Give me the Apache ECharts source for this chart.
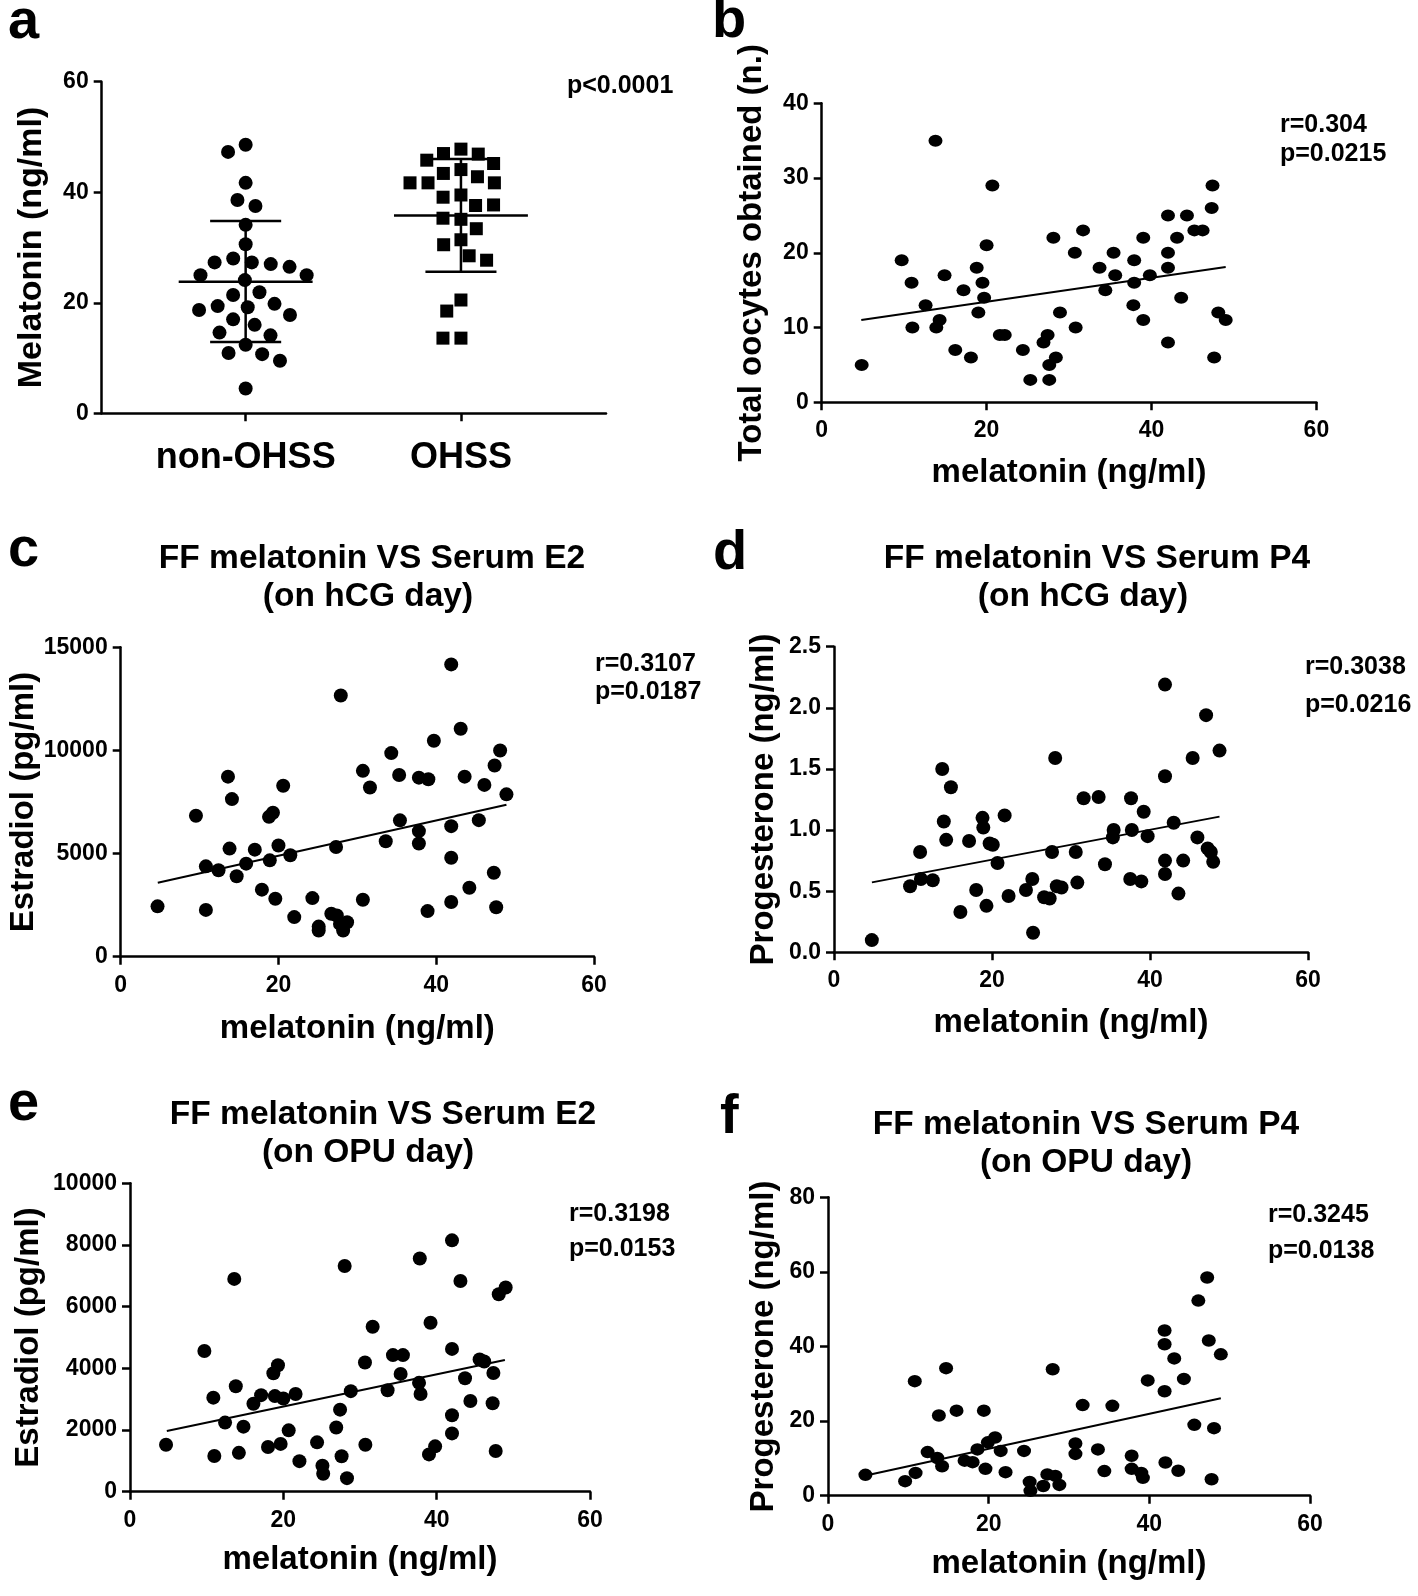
<!DOCTYPE html>
<html><head><meta charset="utf-8">
<script src="https://cdn.jsdelivr.net/npm/echarts@6/dist/echarts.min.js"></script>
<style>html,body{margin:0;padding:0;background:#fff}#c{width:1418px;height:1596px}</style>
</head><body><div id="c"></div>
<script>
// ---------- Panel a ----------
const groupsA = ['non-OHSS', 'OHSS'];
const melatoninNonOHSS = [48.6, 47.3, 41.7, 38.6, 37.5, 34.1, 30.6, 28.0, 27.3, 27.0, 27.3, 26.5, 25.0, 25.0, 24.1, 21.9, 21.4, 19.8, 19.4, 19.2, 18.7, 17.8, 17.0, 16.0, 14.6, 14.1, 12.4, 10.7, 10.9, 9.5, 4.5];
const melatoninOHSS = [47.8, 47.0, 46.9, 45.8, 45.2, 44.1, 43.4, 42.8, 41.7, 41.7, 41.7, 39.5, 39.1, 37.6, 37.7, 35.1, 35.3, 33.4, 31.4, 30.5, 28.5, 27.7, 20.5, 18.5, 13.6, 13.6];
const meanA = [23.8, 35.8];
const sdLowA = [12.9, 25.6];
const sdHighA = [34.8, 46.0];
const yTicksA = [0, 20, 40, 60];

// ---------- Panel b ----------
const melB = [4.85, 9.7, 10.9, 11.0, 12.6, 13.8, 13.9, 14.3, 14.9, 16.2, 17.2, 18.1, 18.8, 19.0, 19.5, 19.7, 20.0, 20.7, 21.6, 22.2, 24.4, 25.3, 26.9, 27.4, 27.6, 27.6, 28.1, 28.4, 28.9, 30.7, 30.8, 31.7, 33.7, 34.4, 35.4, 35.6, 37.8, 37.9, 37.9, 39.0, 39.0, 39.8, 42.0, 42.0, 42.0, 42.0, 43.1, 43.6, 44.3, 45.2, 46.2, 47.3, 47.4, 48.1, 49.0, 47.6];
const oocytesB = [5, 19, 16, 10, 13, 35, 10, 11, 17, 7, 15, 6, 18, 12, 16, 14, 21, 29, 9, 9, 7, 3, 8, 9, 5, 3, 22, 6, 12, 20, 10, 23, 18, 15, 20, 17, 13, 19, 16, 22, 11, 17, 25, 20, 18, 8, 22, 14, 25, 23, 23, 26, 29, 12, 11, 6];
const fitBx = [4.8, 49.0];
const fitBy = [11.0, 18.1];

// ---------- Panel c ----------
const melC = [4.67, 9.54, 10.8, 10.8, 12.4, 13.6, 13.8, 14.1, 14.7, 15.9, 17.0, 17.9, 18.8, 19.3, 18.9, 19.6, 20.0, 20.6, 21.5, 22.0, 24.3, 25.1, 25.1, 26.7, 27.3, 27.4, 27.9, 27.8, 28.2, 28.7, 30.7, 30.7, 31.6, 33.6, 34.3, 35.3, 35.4, 37.8, 37.8, 37.8, 39.0, 38.9, 39.7, 41.9, 41.9, 41.9, 41.9, 43.1, 43.6, 44.2, 45.4, 46.1, 47.3, 47.4, 47.6, 48.1, 48.9];
const e2C = [2440, 6830, 4380, 2270, 4190, 8730, 5240, 7640, 3900, 4510, 5190, 3250, 6780, 6980, 4670, 2810, 5390, 8290, 4920, 1920, 2840, 1460, 1270, 2080, 5320, 2000, 12660, 1590, 1270, 1670, 9010, 2760, 8200, 5600, 9870, 8810, 6610, 8680, 6090, 5490, 8600, 2210, 10470, 14170, 6330, 4800, 2650, 11050, 8730, 3340, 6620, 8330, 4070, 9270, 2400, 10000, 7870];
const fitCx = [4.7, 48.9];
const fitCy = [3590, 7370];

// ---------- Panel d ----------
const melD = [4.79, 9.63, 10.9, 11.0, 12.5, 13.7, 13.9, 14.2, 14.8, 16.0, 17.1, 18.0, 18.8, 18.9, 19.3, 19.7, 20.1, 20.7, 21.6, 22.1, 24.3, 25.1, 25.2, 26.6, 27.3, 27.6, 28.0, 28.2, 28.8, 30.6, 30.8, 31.6, 33.5, 34.3, 35.4, 35.3, 37.6, 37.7, 37.5, 38.9, 39.2, 39.7, 41.9, 41.9, 41.9, 41.9, 43.0, 43.6, 44.2, 45.4, 46.0, 47.1, 47.3, 47.7, 48.0, 48.8];
const p4D = [0.10, 0.54, 0.82, 0.60, 0.59, 1.50, 1.07, 0.92, 1.35, 0.33, 0.91, 0.51, 1.10, 1.02, 0.38, 0.89, 0.88, 0.73, 1.12, 0.46, 0.51, 0.60, 0.16, 0.45, 0.44, 0.82, 1.59, 0.54, 0.53, 0.82, 0.57, 1.26, 1.27, 0.72, 1.00, 0.94, 1.26, 1.00, 0.60, 0.58, 1.15, 0.95, 2.19, 1.44, 0.75, 0.64, 1.06, 0.48, 0.75, 1.59, 0.94, 1.94, 0.85, 0.82, 0.74, 1.65];
const fitDx = [4.8, 48.8];
const fitDy = [0.572, 1.11];

// ---------- Panel e ----------
const melE = [4.70, 9.70, 10.87, 11.0, 12.4, 13.6, 13.8, 14.2, 14.8, 16.1, 17.1, 18.0, 18.7, 19.3, 18.9, 19.65, 20.0, 20.7, 21.6, 22.1, 24.4, 25.1, 25.2, 26.9, 27.4, 27.6, 28.0, 28.3, 28.8, 30.7, 30.65, 31.65, 33.6, 34.3, 35.6, 35.3, 37.8, 37.7, 37.9, 39.2, 39.0, 39.8, 42.0, 42.0, 42.0, 42.0, 43.1, 43.7, 44.4, 45.6, 46.2, 47.4, 47.3, 47.7, 48.1, 49.0];
const e2E = [1520, 4560, 3050, 1160, 2240, 6900, 3420, 1260, 2110, 2850, 3130, 1450, 3840, 4100, 3100, 1550, 3020, 1990, 3170, 990, 1600, 840, 580, 2080, 2660, 1150, 7320, 440, 3260, 1520, 4190, 5350, 3290, 4430, 4430, 3820, 7560, 3530, 3170, 5480, 1210, 1470, 8150, 4630, 2480, 1890, 6830, 3680, 2940, 4290, 4220, 3850, 2870, 1320, 6400, 6620];
const fitEx = [4.8, 48.9];
const fitEy = [1970, 4270];

// ---------- Panel f ----------
const melF = [4.66, 9.6, 10.9, 10.8, 12.4, 13.6, 13.8, 14.2, 14.7, 16.0, 17.0, 18.0, 18.6, 19.4, 19.6, 19.9, 20.8, 21.5, 22.1, 24.4, 25.1, 25.2, 26.8, 27.3, 27.97, 28.3, 28.8, 30.8, 30.8, 31.7, 33.6, 34.4, 35.4, 37.8, 37.8, 39.0, 39.2, 39.8, 41.9, 41.9, 41.9, 42.0, 43.1, 43.6, 44.3, 45.6, 46.1, 47.2, 47.4, 47.75, 48.05, 48.9];
const p4F = [5.6, 3.9, 6.1, 30.7, 11.7, 10.1, 21.5, 7.9, 34.2, 22.8, 9.4, 9.0, 12.4, 22.8, 7.2, 14.3, 15.6, 12.0, 6.3, 12.0, 3.7, 1.3, 2.6, 5.7, 33.9, 5.3, 2.9, 14.0, 11.2, 24.3, 12.4, 6.6, 24.1, 10.7, 7.2, 6.1, 4.8, 30.9, 44.3, 40.6, 28.0, 8.9, 36.8, 6.7, 31.3, 19.0, 52.3, 58.5, 41.6, 4.4, 18.1, 37.9];
const fitFx = [4.7, 48.9];
const fitFy = [5.4, 26.1];

// ---------- Texts ----------
const panelLetters = ['a', 'b', 'c', 'd', 'e', 'f'];
const titlesLine1 = ['FF melatonin VS Serum E2', 'FF melatonin VS Serum P4', 'FF melatonin VS Serum E2', 'FF melatonin VS Serum P4'];
const titlesLine2 = ['(on hCG day)', '(on hCG day)', '(on OPU day)', '(on OPU day)'];
const statsR = ['r=0.304', 'r=0.3107', 'r=0.3038', 'r=0.3198', 'r=0.3245'];
const statsP = ['p=0.0215', 'p=0.0187', 'p=0.0216', 'p=0.0153', 'p=0.0138'];
const statA = 'p<0.0001';
const xName = 'melatonin (ng/ml)';
const yNames = ['Melatonin (ng/ml)', 'Total oocytes obtained (n.)', 'Estradiol (pg/ml)', 'Progesterone (ng/ml)', 'Estradiol (pg/ml)', 'Progesterone (ng/ml)'];

const FT = '"Liberation Sans", Arial, Helvetica, sans-serif';
const BLK = '#000';
const LW = 2.5;

const axisLine = {show: true, onZero: false, lineStyle: {color: BLK, width: LW}};
const axisTick = {show: true, length: 8, lineStyle: {color: BLK, width: LW}};
const numLabel = (margin, fmt) => ({show: true, color: BLK, fontFamily: FT, fontWeight: 'bold', fontSize: 23, margin: margin,
  formatter: fmt || (v => String(v))});
const nameStyle = (size) => ({color: BLK, fontFamily: FT, fontWeight: 'bold', fontSize: size || 33});

function xVal(grid, gap) {
  return {gridIndex: grid, type: 'value', min: 0, max: 60, interval: 20,
    axisLine, axisTick, axisLabel: numLabel(17), splitLine: {show: false},
    name: xName, nameLocation: 'middle', nameGap: gap, nameMoveOverlap: false, nameTextStyle: nameStyle(33)};
}
function yVal(grid, max, interval, name, gap, fmt) {
  return {gridIndex: grid, type: 'value', min: 0, max: max, interval: interval,
    axisLine, axisTick, axisLabel: numLabel(13, fmt), splitLine: {show: false},
    name: name, nameLocation: 'middle', nameGap: gap, nameMoveOverlap: false, nameTextStyle: nameStyle(33)};
}
function zip(xs, ys) { return xs.map((x, i) => [x, ys[i]]); }
function scatter(idx, xs, ys, size) {
  return {type: 'scatter', xAxisIndex: idx, yAxisIndex: idx, data: zip(xs, ys),
    symbol: 'circle', symbolSize: size, itemStyle: {color: BLK, opacity: 1}, z: 3, silent: true};
}
function fitLine(idx, xs, ys) {
  return {type: 'line', xAxisIndex: idx, yAxisIndex: idx, data: zip(xs, ys),
    symbol: 'none', showSymbol: false, lineStyle: {color: BLK, width: 2}, z: 4, silent: true};
}

const grids = [
  {left: 101.7, top: 81.7, width: 504.3, height: 331.6},
  {left: 138, top: 81.7, width: 430.6, height: 331.6},
  {left: 821.7, top: 103.3, width: 494.7, height: 299},
  {left: 120.7, top: 647.3, width: 473.3, height: 309.4},
  {left: 834, top: 646.7, width: 474, height: 305.6},
  {left: 130, top: 1183.3, width: 460, height: 308.4},
  {left: 828, top: 1197.3, width: 482, height: 298.4}
].map(g => Object.assign({containLabel: false, outerBoundsMode: 'none'}, g));

const xAxes = [
  {gridIndex: 0, type: 'value', min: 0, max: 1, axisLine, axisTick: {show: false}, axisLabel: {show: false}, splitLine: {show: false}},
  {gridIndex: 1, type: 'category', data: groupsA, boundaryGap: true,
    axisLine: {show: false}, axisTick: {show: true, alignWithLabel: true, interval: 0, length: 8, lineStyle: {color: BLK, width: LW}},
    axisLabel: {color: BLK, fontFamily: FT, fontWeight: 'bold', fontSize: 36, margin: 27, interval: 0, hideOverlap: false},
    splitLine: {show: false}, jitter: 150, jitterOverlap: false, jitterMargin: 5},
  xVal(2, 54), xVal(3, 56), xVal(4, 54), xVal(5, 52), xVal(6, 52)
];
const yAxes = [
  {gridIndex: 0, type: 'value', min: yTicksA[0], max: yTicksA[yTicksA.length - 1], interval: yTicksA[1] - yTicksA[0],
    axisLine, axisTick, axisLabel: numLabel(13), splitLine: {show: false},
    name: yNames[0], nameLocation: 'middle', nameGap: 53, nameMoveOverlap: false, nameTextStyle: nameStyle(34)},
  {gridIndex: 1, type: 'value', min: 0, max: 60, show: false},
  yVal(2, 40, 10, yNames[1], 53),
  yVal(3, 15000, 5000, yNames[2], 80),
  yVal(4, 2.5, 0.5, yNames[3], 54, v => v.toFixed(1)),
  yVal(5, 10000, 2000, yNames[4], 85),
  yVal(6, 80, 20, yNames[5], 48)
];

const series = [
  {type: 'scatter', xAxisIndex: 1, yAxisIndex: 1, data: melatoninNonOHSS.map(v => [0, v]),
    symbol: 'circle', symbolSize: 14, itemStyle: {color: BLK, opacity: 1}, z: 3, silent: true},
  {type: 'scatter', xAxisIndex: 1, yAxisIndex: 1, data: melatoninOHSS.map(v => [1, v]),
    symbol: 'rect', symbolSize: 13, itemStyle: {color: BLK, opacity: 1}, z: 3, silent: true},
  {type: 'custom', xAxisIndex: 1, yAxisIndex: 1, z: 4, silent: true,
    data: groupsA.map((g, i) => [i, meanA[i], sdLowA[i], sdHighA[i]]),
    encode: {x: 0, y: 1},
    renderItem: function (params, api) {
      const i = api.value(0);
      const m = api.coord([i, api.value(1)]);
      const lo = api.coord([i, api.value(2)]);
      const hi = api.coord([i, api.value(3)]);
      const bw = api.size([1, 0])[0];
      const mw = bw * 0.311, cw = bw * 0.165;
      const st = {stroke: BLK, lineWidth: LW};
      return {type: 'group', children: [
        {type: 'line', shape: {x1: m[0] - mw, y1: m[1], x2: m[0] + mw, y2: m[1]}, style: st},
        {type: 'line', shape: {x1: lo[0], y1: lo[1], x2: hi[0], y2: hi[1]}, style: st},
        {type: 'line', shape: {x1: lo[0] - cw, y1: lo[1], x2: lo[0] + cw, y2: lo[1]}, style: st},
        {type: 'line', shape: {x1: hi[0] - cw, y1: hi[1], x2: hi[0] + cw, y2: hi[1]}, style: st}
      ]};
    }},
  scatter(2, melB, oocytesB, [14, 12]), fitLine(2, fitBx, fitBy),
  scatter(3, melC, e2C, 14), fitLine(3, fitCx, fitCy),
  scatter(4, melD, p4D, 14), fitLine(4, fitDx, fitDy),
  scatter(5, melE, e2E, 14), fitLine(5, fitEx, fitEy),
  scatter(6, melF, p4F, [14, 12.5]), fitLine(6, fitFx, fitFy)
];

function txt(text, x, y, size, align) {
  return {type: 'text', x: x, y: y, silent: true,
    style: {text: text, fill: BLK, fontFamily: FT, fontWeight: 'bold', fontSize: size,
      align: align || 'left', verticalAlign: 'middle'}};
}
const letterPos = [[8, 23], [712, 22], [8, 551], [713, 554], [8, 1105], [720, 1118]];
const titlePos1 = [[372, 559], [1097, 559], [383, 1115], [1086, 1125]];
const titlePos2 = [[368, 597], [1083, 597], [368, 1153], [1086, 1163]];
const statPos = [[1280, 125, 154], [595, 664, 692], [1305, 667, 705], [569, 1214, 1249], [1268, 1215, 1251]];

const graphics = [];
panelLetters.forEach((l, i) => graphics.push(txt(l, letterPos[i][0], letterPos[i][1], 56)));
titlesLine1.forEach((t, i) => {
  graphics.push(txt(t, titlePos1[i][0], titlePos1[i][1], 33.5, 'center'));
  graphics.push(txt(titlesLine2[i], titlePos2[i][0], titlePos2[i][1], 33.5, 'center'));
});
graphics.push(txt(statA, 567, 86, 25));
statsR.forEach((r, i) => {
  graphics.push(txt(r, statPos[i][0], statPos[i][1], 25));
  graphics.push(txt(statsP[i], statPos[i][0], statPos[i][2], 25));
});

const chart = echarts.init(document.getElementById('c'), null, {renderer: 'canvas'});
chart.setOption({
  animation: false,
  backgroundColor: '#fff',
  grid: grids,
  xAxis: xAxes,
  yAxis: yAxes,
  series: series,
  graphic: graphics
});
</script>
</body></html>
